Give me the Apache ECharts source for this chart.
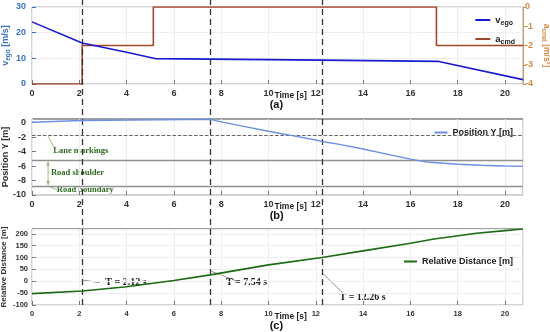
<!DOCTYPE html>
<html><head><meta charset="utf-8">
<script src="https://cdn.jsdelivr.net/npm/echarts@6/dist/echarts.min.js"></script>
<style>html,body{margin:0;padding:0;background:#fff}#c{width:550px;height:332px}</style>
</head><body><div id="c"></div>
<script>
// ---- data ----
const eventTimes = [2.12, 7.54, 12.26];
const eventLabels = ['T = 2.12 s', 'T = 7.54 s', 'T = 12.26 s'];

const vTime = [0, 2.12, 4, 5.2, 12.26, 17.2, 20.76];
const vEgo  = [24.2, 16.0, 12.4, 9.9, 9.3, 8.8, 1.7];

const aTime = [0, 2.12, 2.12, 5.13, 5.13, 17.1, 17.1, 20.76];
const aCmd  = [-4, -4, -2, -2, 0, 0, -2, -2];

const pTime = [0, 2.12, 7.54, 8, 9, 10, 10.5, 11, 12, 12.26, 13, 14, 15, 16, 16.7, 18, 19, 20, 20.76];
const posY  = [0.05, 0.3, 0.45, 0.1, -0.55, -1.2, -1.5, -1.8, -2.4, -2.6, -3.0, -3.65, -4.35, -5.05, -5.45, -5.75, -5.9, -6.0, -6.05];

const laneLines = [-1.75, -5.25, -8.75];

const dTime = [0, 2.12, 4, 6, 7.54, 10, 12.26, 14, 16, 17, 18.8, 20, 20.76];
const relDist = [-52, -41, -23, 3, 27, 69, 100, 128, 160, 178, 202, 213, 220];

const X_MAX = 20.76;
const zip = (a,b)=>a.map((t,i)=>[t,b[i]]);

const SANS = '"Liberation Sans", Arial, sans-serif';
const SERIF = '"Liberation Serif", "Times New Roman", serif';
const L = 32, R = 27;
const grids = [
  {left:L, right:R, top:7,   height:77},
  {left:L, right:R, top:119, height:76},
  {left:L, right:R, top:229, height:76},
  {left:L, right:R, top:0,   height:305}
];

function xAxis(gi, fs){
  return {type:'value', gridIndex:gi, min:0, max:X_MAX, interval:2,
    axisLine:{show:false, onZero:false},
    axisTick:{show:true, inside:true, length:4, lineStyle:{color:'#777'}},
    axisLabel:{showMaxLabel:false, color:'#333', fontFamily:SANS, fontWeight:'bold', fontSize:fs, margin:5},
    splitLine:{show:true, lineStyle:{color:'#eeeeee', width:1}}};
}
const gridCommon = {show:true, borderColor:'#a8a8a8', borderWidth:1};

const option = {
  animation:false,
  grid: grids.map((g,i)=> Object.assign({containLabel:false, outerBoundsMode:'none'}, g, i<3 ? gridCommon : {})),
  xAxis: [xAxis(0,9), xAxis(1,9), xAxis(2,7.5),
    {type:'value', gridIndex:3, min:0, max:X_MAX, show:false, axisLine:{show:false, onZero:false}}],
  yAxis: [
    {type:'value', gridIndex:0, min:0, max:30, interval:10,
      name:'{v|v}{s|ego}{v| [m/s]}', nameLocation:'middle', nameGap:20, nameRotate:90, nameMoveOverlap:false,
      nameTextStyle:{color:'#3d6fbf', rich:{v:{fontFamily:SANS,fontWeight:'bold',fontSize:9,color:'#3d6fbf'}, s:{fontFamily:SANS,fontWeight:'bold',fontSize:6.5,color:'#3d6fbf',verticalAlign:'bottom', padding:[6,0,0,0]}}},
      axisLine:{show:false, onZero:false},
      axisTick:{show:true, inside:true, length:4, lineStyle:{color:'#3d6fbf'}},
      axisLabel:{color:'#3d6fbf', fontFamily:SANS, fontWeight:'bold', fontSize:9, margin:6},
      splitLine:{show:true, lineStyle:{color:'#eeeeee'}}},
    {type:'value', gridIndex:0, min:-4, max:0, interval:1, position:'right',
      name:'{v|a}{s|cmd}{v| [m/s²]}', nameLocation:'middle', nameGap:17, nameRotate:-90, nameMoveOverlap:false,
      nameTextStyle:{rich:{v:{fontFamily:SANS,fontWeight:'bold',fontSize:8.5,color:'#d08a40'}, s:{fontFamily:SANS,fontWeight:'bold',fontSize:6.5,color:'#d08a40',verticalAlign:'bottom', padding:[6,0,0,0]}}},
      axisLine:{show:true, onZero:false, lineStyle:{color:'#c89a6a'}},
      axisTick:{show:true, inside:false, length:3, lineStyle:{color:'#d08a40'}},
      axisLabel:{color:'#d08a40', fontFamily:SANS, fontWeight:'bold', fontSize:9, margin:2},
      splitLine:{show:false}},
    {type:'value', gridIndex:1, min:-10, max:0.5, interval:2,
      name:'Position Y [m]', nameLocation:'middle', nameGap:22, nameRotate:90, nameMoveOverlap:false,
      nameTextStyle:{color:'#333', fontFamily:SANS, fontWeight:'bold', fontSize:9},
      axisLine:{show:false, onZero:false},
      axisTick:{show:true, inside:true, length:4, lineStyle:{color:'#777'}},
      axisLabel:{showMaxLabel:false, color:'#333', fontFamily:SANS, fontWeight:'bold', fontSize:9, margin:6},
      splitLine:{show:false}},
    {type:'value', gridIndex:2, min:-100, max:220, interval:50,
      name:'Relative Distance [m]', nameLocation:'middle', nameGap:24, nameRotate:90, nameMoveOverlap:false,
      nameTextStyle:{color:'#333', fontFamily:SANS, fontWeight:'bold', fontSize:8},
      axisLine:{show:false, onZero:false},
      axisTick:{show:true, inside:true, length:4, lineStyle:{color:'#777'}},
      axisLabel:{showMaxLabel:false, color:'#333', fontFamily:SANS, fontWeight:'bold', fontSize:7.5, margin:4},
      splitLine:{show:true, lineStyle:{color:'#eeeeee'}}},
    {type:'value', gridIndex:3, min:0, max:1, show:false, axisLine:{show:false, onZero:false}}
  ],
  legend: [
    {data:['vego','acmd'], orient:'vertical', right:30, top:10, itemWidth:15, itemHeight:2, itemGap:7, icon:'rect',
      formatter: n => n==='vego' ? '{v|v}{s|ego}' : '{v|a}{s|cmd}',
      textStyle:{rich:{v:{fontFamily:SANS,fontWeight:'bold',fontSize:9.5,color:'#222'}, s:{fontFamily:SANS,fontWeight:'bold',fontSize:7,color:'#222',verticalAlign:'bottom',padding:[7,0,0,0]}}}},
    {data:['Position Y [m]'], right:32, top:123, itemWidth:13, itemHeight:2, icon:'rect', itemGap:2,
      textStyle:{fontFamily:SANS,fontWeight:'bold',fontSize:9,color:'#222'}},
    {data:['Relative Distance [m]'], right:32, top:252, itemWidth:13, itemHeight:2, icon:'rect',
      textStyle:{fontFamily:SANS,fontWeight:'bold',fontSize:9,color:'#222'}}
  ],
  series: [
    {name:'vego', type:'line', xAxisIndex:0, yAxisIndex:0, data:zip(vTime, vEgo), showSymbol:false, symbol:'none',
      lineStyle:{color:'#1a1ad0', width:1.6}, itemStyle:{color:'#1a1ad0'}, z:5},
    {name:'acmd', type:'line', xAxisIndex:0, yAxisIndex:1, data:zip(aTime, aCmd), showSymbol:false, symbol:'none',
      lineStyle:{color:'#a3472a', width:1.6}, itemStyle:{color:'#a3472a'}, z:4},
    {name:'Position Y [m]', type:'line', xAxisIndex:1, yAxisIndex:2, data:zip(pTime, posY), showSymbol:false, symbol:'none',
      lineStyle:{color:'#6b8fe6', width:1.4}, itemStyle:{color:'#6b8fe6'}, z:5,
      markLine:{silent:true, symbol:'none', label:{show:false},
        data: laneLines.map((v,i)=>({yAxis:v, lineStyle:{color: i===0?'#555':'#909090', type: i===0?'dashed':'solid', width: i===0?0.9:1.4}}))}},
    {name:'Relative Distance [m]', type:'line', xAxisIndex:2, yAxisIndex:3, data:zip(dTime, relDist), showSymbol:false, symbol:'none',
      lineStyle:{color:'#1c6a14', width:1.6}, itemStyle:{color:'#1c6a14'}, z:5},
    {name:'events', type:'line', xAxisIndex:3, yAxisIndex:4, data:[], z:10,
      markLine:{silent:true, symbol:'none', label:{show:false},
        lineStyle:{color:'#333', type:[6,4], width:1.3},
        data: eventTimes.map(t=>({xAxis:t}))}}
  ],
  graphic: []
};

const chart = echarts.init(document.getElementById('c'), null, {renderer:'canvas'});
chart.setOption(option);

// annotations placed via the chart's own scales
function px(gi, x, y){ return chart.convertToPixel({gridIndex:gi}, [x,y]); }
const g = [];

// thicker top frame on panels (b) and (c)
[[1,0.5],[2,220]].forEach(([gi,yTop])=>{
  const a = px(gi,0,yTop), b = px(gi,X_MAX,yTop);
  g.push({type:'line', shape:{x1:a[0], y1:a[1], x2:b[0], y2:b[1]}, style:{stroke:'#a0a0a0', lineWidth:2}});
});

// x-axis titles and panel labels
['(a)','(b)','(c)'].forEach((lab,i)=>{
  const base = px(i, 10, i===0?0:(i===1?-10:-100));
  const tx = px(i, 10.25, 0)[0];
  g.push({type:'text', x:tx, y:base[1]+12, style:{text:'Time [s]', fontFamily:SANS, fontWeight:'bold', fontSize:8.5, fill:'#222', textVerticalAlign:'middle'}});
  g.push({type:'text', x:px(i,10.05,0)[0], y:base[1]+21, style:{text:lab, fontFamily:SANS, fontWeight:'bold', fontSize:11, fill:'#111', textVerticalAlign:'middle'}});
});

// lane annotations
const green = '#2f6b1f', lgreen = '#9dbb85';
const sTxt = (t,x,y)=>({type:'text', x, y, style:{text:t, fontFamily:SERIF, fontWeight:'bold', fontSize:8.5, fill:green, textVerticalAlign:'middle'}});
const lane1 = px(1, 0.68, -1.75), lane2 = px(1, 0.68, -5.25), lane3 = px(1, 0.68, -8.75);
g.push({type:'line', shape:{x1:lane1[0], y1:lane1[1]+1, x2:lane1[0]+6, y2:lane1[1]+12}, style:{stroke:lgreen, lineWidth:1}});
g.push({type:'line', shape:{x1:lane2[0], y1:lane2[1]+1, x2:lane3[0], y2:lane3[1]-1}, style:{stroke:lgreen, lineWidth:1}});
g.push({type:'polygon', shape:{points:[[lane2[0],lane2[1]+1],[lane2[0]-2,lane2[1]+5],[lane2[0]+2,lane2[1]+5]]}, style:{fill:lgreen}});
g.push({type:'polygon', shape:{points:[[lane3[0],lane3[1]-1],[lane3[0]-2,lane3[1]-5],[lane3[0]+2,lane3[1]-5]]}, style:{fill:lgreen}});
g.push({type:'line', shape:{x1:lane3[0], y1:lane3[1], x2:lane3[0]+9, y2:lane3[1]+4}, style:{stroke:lgreen, lineWidth:1}});
g.push(sTxt('Lane markings', px(1,0.9,0)[0], px(1,0,-3.9)[1]));
g.push(sTxt('Road shoulder', px(1,0.8,0)[0], px(1,0,-6.9)[1]));
g.push(sTxt('Road boundary', px(1,1.05,0)[0], px(1,0,-9.3)[1]));

// event labels in panel (c)
const evLabelPos = [[3.1,-7],[8.2,-7],[13.0,-67]];
const evStart = [[2.12,5],[7.54,42],[12.26,32]];
const evEnd = [[2.85,-6],[8.6,3],[13.2,-55]];
eventTimes.forEach((t,i)=>{
  const a = px(2, evStart[i][0], evStart[i][1]), b = px(2, evEnd[i][0], evEnd[i][1]);
  g.push({type:'line', shape:{x1:a[0]+1, y1:a[1], x2:b[0], y2:b[1]}, style:{stroke:'#777', lineWidth:0.8}});
  const p = px(2, evLabelPos[i][0], evLabelPos[i][1]);
  g.push({type:'text', x:p[0], y:p[1], style:{text:eventLabels[i], fontFamily:SERIF, fontWeight:'bold', fontSize:10, fill:'#222', textVerticalAlign:'middle'}});
});

chart.setOption({graphic:g});
</script></body></html>
